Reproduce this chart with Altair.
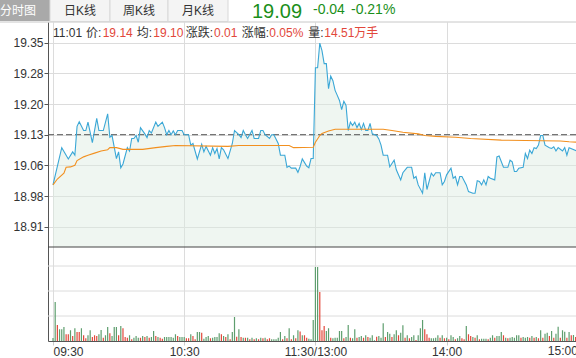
import altair as alt
import pandas as pd

# ---------------- data ----------------
PREV_CLOSE = 19.13
LAST_PRICE = "19.09"
CHANGE = "-0.04"
CHANGE_PCT = "-0.21%"

TIME_TICKS = [0, 60, 120, 180, 240]
TIME_LABELS = ["09:30", "10:30", "11:30/13:00", "14:00", "15:00"]
PRICE_TICKS = [18.91, 18.9833, 19.0567, 19.13, 19.2033, 19.2767, 19.35]

price_min = [0, 4, 7, 9, 10, 11, 12, 14, 15, 16, 18, 20, 21, 23, 25, 26, 27, 29, 30, 31, 32, 34, 35,
             36, 37, 38, 39, 40, 42, 43, 44, 45, 47, 48, 50, 51, 52, 53, 54, 55, 56, 57, 59, 60, 62,
             63, 64, 66, 68, 69, 70, 72, 73, 74, 75, 76, 77, 78, 80, 82, 83, 85, 86, 87, 88, 89, 91,
             92, 94, 95, 96, 97, 99, 100, 101, 103, 104, 106, 107, 108, 109, 111, 112, 113, 114, 116,
             117, 118, 119, 120, 121, 122, 123, 124, 125, 126, 127, 128, 129, 130, 131, 132, 133, 134,
             135, 136, 137, 138, 139, 140, 141, 142, 143, 144, 145, 146, 148, 149, 150, 151, 153, 154,
             155, 156, 157, 159, 160, 162, 164, 165, 166, 167, 169, 170, 171, 173, 174, 175, 177, 178,
             179, 180, 182, 183, 184, 185, 186, 187, 189, 190, 192, 193, 194, 195, 196, 197, 198, 199,
             200, 202, 203, 204, 206, 207, 208, 209, 210, 211, 212, 213, 215, 216, 217, 218, 219, 220,
             221, 222, 223, 224, 225, 227, 228, 229, 230, 231, 233, 234, 235, 236, 240]
price_val = [19.010, 19.099, 19.072, 19.089, 19.081, 19.150, 19.161, 19.140, 19.140, 19.160, 19.111,
             19.169, 19.140, 19.140, 19.180, 19.124, 19.128, 19.073, 19.089, 19.051, 19.060, 19.099,
             19.091, 19.121, 19.121, 19.128, 19.112, 19.147, 19.132, 19.123, 19.140, 19.134, 19.160,
             19.150, 19.160, 19.147, 19.130, 19.140, 19.130, 19.139, 19.130, 19.140, 19.140, 19.130,
             19.130, 19.105, 19.109, 19.072, 19.107, 19.089, 19.102, 19.081, 19.099, 19.085, 19.097,
             19.072, 19.099, 19.094, 19.073, 19.109, 19.140, 19.130, 19.123, 19.140, 19.130, 19.121,
             19.140, 19.121, 19.121, 19.140, 19.140, 19.130, 19.121, 19.130, 19.130, 19.109, 19.081,
             19.081, 19.052, 19.055, 19.050, 19.050, 19.040, 19.054, 19.072, 19.055, 19.051, 19.073,
             19.073, 19.290, 19.290, 19.349, 19.331, 19.300, 19.300, 19.240, 19.270, 19.259, 19.236,
             19.224, 19.212, 19.190, 19.210, 19.200, 19.140, 19.160, 19.152, 19.160, 19.147, 19.157,
             19.142, 19.157, 19.140, 19.140, 19.157, 19.132, 19.128, 19.120, 19.105, 19.081, 19.081,
             19.053, 19.061, 19.069, 19.046, 19.022, 19.039, 19.052, 19.052, 19.026, 19.030, 19.010,
             18.990, 19.039, 18.999, 19.038, 19.031, 19.039, 19.039, 19.010, 19.018, 19.034, 19.050,
             19.026, 19.030, 19.010, 19.030, 19.030, 19.010, 18.994, 18.990, 18.990, 19.020, 19.018,
             19.010, 19.022, 19.010, 19.030, 19.026, 19.022, 19.077, 19.079, 19.052, 19.052, 19.052,
             19.069, 19.065, 19.042, 19.042, 19.050, 19.052, 19.085, 19.073, 19.093, 19.085, 19.099,
             19.097, 19.105, 19.128, 19.128, 19.105, 19.099, 19.097, 19.101, 19.091, 19.099, 19.091,
             19.099, 19.081, 19.099, 19.090]

avg_min = [0, 2, 5, 6, 8, 10, 11, 14, 16, 19, 22, 25, 26, 29, 32, 41, 47, 52, 56, 80, 85, 108, 110,
           119, 120, 122, 123, 126, 129, 151, 155, 160, 167, 170, 175, 184, 191, 205, 232, 236, 240]
avg_val = [19.010, 19.024, 19.038, 19.052, 19.053, 19.057, 19.068, 19.077, 19.081, 19.086, 19.091,
           19.094, 19.099, 19.099, 19.095, 19.095, 19.099, 19.102, 19.104, 19.102, 19.104, 19.104,
           19.099, 19.100, 19.112, 19.128, 19.133, 19.139, 19.143, 19.143, 19.140, 19.136, 19.132,
           19.128, 19.126, 19.124, 19.121, 19.117, 19.115, 19.113, 19.112]

# volume per minute (手), one bar per minute 09:30 .. 15:00 (241 bars), rows of ten
volume = [
    120, 1560, 640, 470, 470, 560, 270, 270, 430, 200,
    510, 360, 360, 510, 230, 110, 230, 430, 160, 230,
    200, 270, 440, 130, 230, 560, 310, 200, 560, 560,
    230, 600, 510, 160, 130, 230, 70, 130, 200, 130,
    130, 200, 160, 200, 130, 160, 400, 200, 160, 130,
    90, 160, 160, 160, 160, 130, 270, 200, 160, 160,
    160, 110, 110, 270, 200, 70, 360, 360, 330, 90,
    160, 200, 110, 130, 160, 160, 310, 270, 200, 160,
    270, 70, 360, 960, 170, 470, 160, 130, 130, 130,
    70, 130, 70, 110, 70, 130, 110, 130, 70, 110,
    70, 70, 70, 130, 360, 70, 200, 110, 510, 70,
    230, 110, 430, 380, 230, 230, 130, 90, 70, 840,
    2960, 2960, 1960, 430, 600, 400, 510, 130, 110, 130,
    130, 400, 400, 110, 160, 640, 130, 110, 470, 130,
    160, 200, 130, 230, 160, 130, 230, 30, 170, 200,
    130, 710, 160, 360, 290, 160, 270, 430, 230, 330,
    630, 130, 230, 110, 160, 230, 40, 230, 510, 840,
    470, 270, 130, 110, 110, 130, 230, 130, 230, 110,
    130, 70, 230, 160, 70, 110, 200, 110, 70, 600,
    270, 200, 160, 130, 230, 70, 90, 90, 90, 70,
    130, 230, 130, 200, 200, 360, 230, 130, 110, 130,
    160, 130, 230, 230, 130, 160, 130, 160, 130, 200,
    130, 160, 110, 430, 130, 290, 330, 200, 400, 130,
    290, 570, 130, 430, 370, 130, 360, 230, 240, 160,
    480,
]
# r = price up (red bar), g = price down (green bar)
vol_color = (
    "ggrgggrrgr" "grrgrrggrr" "rggrggrggg" "rgrrrgrggg" "rgrgrggrgr"
    "rggggggrgg" "grrgrrggrg" "ggrggggrgr" "grggrgrgrg" "rgrgrgrgrr"
    "gggggrgrgr" "grgrgrrggg" "ggrrrggrgg" "gggrggrggr" "ggrgrgggrg"
    "ggrggrggrg" "grgrggrggg" "rrrggggrgr" "grggrggrrg" "rrgrgrgggr"
    "ggrgggrgrg" "ggggrgggrg" "rgrgrggrgr" "ggrggrgrgr" "g"
)
vol_dir = ["up" if c == "r" else "down" for c in vol_color]

INFO = [("11:01", "#333333"), ("价:", "#333333"), ("19.14", "#e2473a"), ("均:", "#333333"),
        ("19.10", "#e2473a"), ("涨跌:", "#333333"), ("0.01", "#e2473a"), ("涨幅:", "#333333"),
        ("0.05%", "#e2473a"), ("量:", "#333333"), ("14.51万手", "#e2473a")]
TABS = ["日K线", "周K线", "月K线"]

# ---------------- layout ----------------
W, H = 528, 319            # plot area: x 48..576, y 22..341 (page pixels)
PX_PER_MIN = 2.229
X_END = W / PX_PER_MIN
K = 418.2                  # px per yuan
Y_PREV = 134.7 - 22        # prev-close line, plot coords
p_top = PREV_CLOSE + Y_PREV / K
p_bot = PREV_CLOSE - (H - Y_PREV) / K
p_panel_bot = PREV_CLOSE - (225 - Y_PREV) / K
VOL_PER_PX = 40
v_top = H * VOL_PER_PX

FONT = "Liberation Sans, Noto Sans CJK SC"
RED, GREEN_BAR, GREEN_TXT = "#e2473a", "#5e9e6e", "#1a8f1a"
BLUE, ORANGE = "#3aa7d6", "#f2901f"

label_expr = " : ".join(
    [f"datum.value == {t} ? '{l}'" for t, l in zip(TIME_TICKS[:-1], TIME_LABELS[:-1])]
) + f" : '{TIME_LABELS[-1]}'"

xs = alt.Scale(domain=[0, X_END], nice=False, zero=False)
ps = alt.Scale(domain=[p_bot, p_top], nice=False, zero=False)
vs = alt.Scale(domain=[0, v_top], nice=False, zero=True)

x_axis = alt.Axis(values=TIME_TICKS, labelExpr=label_expr, title=None, grid=True,
                  gridColor="#dcdcdc", tickColor="#cccccc", tickSize=4, domainColor="#555555",
                  labelColor="#333333", labelFont=FONT, labelFontSize=12, labelPadding=1,
                  labelFlush=False, labelOverlap=False,
                  labelAlign={"condition": [{"test": "datum.value <= 0", "value": "left"},
                                            {"test": "datum.value >= 240", "value": "right"}],
                              "value": "center"})
y_axis = alt.Axis(values=PRICE_TICKS, format=".2f", title=None, grid=True, gridColor="#dcdcdc",
                  tickColor="#555555", tickSize=4, domainColor="#555555", labelColor="#333333",
                  labelFont=FONT, labelFontSize=12, labelPadding=1, labelOverlap=False)

X_ENC = alt.X("t:Q", scale=xs, axis=x_axis)
Y_P = alt.Y("p:Q", scale=ps, axis=y_axis)
Y_V = alt.Y("v:Q", scale=vs, axis=None)

price_df = pd.DataFrame({"t": price_min, "p": price_val})
avg_df = pd.DataFrame({"t": avg_min, "p": avg_val})
vol_df = pd.DataFrame({"t": list(range(len(volume))), "v": volume, "dir": vol_dir})

area = alt.Chart(price_df).mark_area(color="#dcebdf", opacity=0.45).transform_calculate(
    b=f"{p_panel_bot}").encode(x=X_ENC, y=Y_P, y2=alt.Y2("b:Q"))
prev_line = alt.Chart(pd.DataFrame({"p": [PREV_CLOSE]})).mark_rule(
    color="#555555", strokeDash=[6, 3], strokeWidth=1).encode(y=Y_P)
sep_line = alt.Chart(pd.DataFrame({"p": [p_panel_bot]})).mark_rule(
    color="#444444", strokeWidth=1).encode(y=Y_P)
price_line = alt.Chart(price_df).mark_line(color=BLUE, strokeWidth=1.1).encode(x=X_ENC, y=Y_P)
avg_line = alt.Chart(avg_df).mark_line(color=ORANGE, strokeWidth=1.1).encode(x=X_ENC, y=Y_P)
price_group = alt.layer(area, prev_line, price_line, avg_line, sep_line)

vgrid = alt.Chart(pd.DataFrame({"v": [1000, 2000, 3000]})).mark_rule(
    color="#dcdcdc", strokeWidth=1).encode(y=Y_V)
bars = alt.Chart(vol_df).mark_bar(size=1.2).encode(
    x=X_ENC, y=Y_V,
    color=alt.Color("dir:N", scale=alt.Scale(domain=["up", "down"], range=[RED, GREEN_BAR]),
                    legend=None))
# closing-time label sits just past the visible range, as in the original screenshot
end_label = alt.Chart(pd.DataFrame({"t": [TIME_TICKS[-1]], "lab": [TIME_LABELS[-1]]})).mark_text(
    color="#333333", font=FONT, fontSize=12, align="right", baseline="top").encode(
    x=X_ENC, y=alt.value(H + 5), text="lab:N")
vol_group = alt.layer(vgrid, bars, end_label)

one = pd.DataFrame({"k": [0]})
deco = []
deco.append(alt.Chart(one).mark_rule(color="#c8c8c8").encode(
    x=alt.value(-48), x2=alt.value(W), y=alt.value(0)))
deco.append(alt.Chart(one).mark_rect(color="#a9a9a9").encode(
    x=alt.value(-48), x2=alt.value(2), y=alt.value(-22), y2=alt.value(-1)))
deco.append(alt.Chart(one).mark_text(text="分时图", color="white", font=FONT, fontSize=12,
                                     align="center", baseline="middle").encode(
    x=alt.value(-30), y=alt.value(-11.5)))
tab_edges = [2, 62, 120, 180]
for i, name in enumerate(TABS):
    deco.append(alt.Chart(one).mark_rect(color="#f4f4f4", stroke="#d8d8d8", strokeWidth=1).encode(
        x=alt.value(tab_edges[i]), x2=alt.value(tab_edges[i + 1]), y=alt.value(-22.5),
        y2=alt.value(-0.5)))
    deco.append(alt.Chart(one).mark_text(text=name, color="#333333", font=FONT, fontSize=12,
                                         align="center", baseline="middle").encode(
        x=alt.value((tab_edges[i] + tab_edges[i + 1]) / 2), y=alt.value(-11.5)))
deco.append(alt.Chart(one).mark_text(text=LAST_PRICE, color=GREEN_TXT, font=FONT, fontSize=20,
                                     align="left", baseline="middle").encode(
    x=alt.value(204), y=alt.value(-10.5)))
deco.append(alt.Chart(one).mark_text(text=CHANGE, color=GREEN_TXT, font=FONT, fontSize=14,
                                     align="left", baseline="middle").encode(
    x=alt.value(265), y=alt.value(-12)))
deco.append(alt.Chart(one).mark_text(text=CHANGE_PCT, color=GREEN_TXT, font=FONT, fontSize=14,
                                     align="left", baseline="middle").encode(
    x=alt.value(303), y=alt.value(-12)))
info_x = [5, 38, 54.7, 88.7, 105.3, 137.7, 166, 193.7, 221.3, 260.3, 276.3]
for (txt, col), xx in zip(INFO, info_x):
    deco.append(alt.Chart(one).mark_text(text=txt, color=col, font=FONT, fontSize=12,
                                         align="left", baseline="middle").encode(
        x=alt.value(xx), y=alt.value(11.3)))

chart = alt.layer(price_group, vol_group, *deco).resolve_scale(y="independent").properties(
    width=W, height=H, autosize=alt.AutoSizeParams(type="none"),
    padding={"left": 48, "top": 22, "right": 0, "bottom": 17}, background="white"
).configure_view(stroke=None)

chart.save("out.html", embed_options={"renderer": "svg", "actions": False})
